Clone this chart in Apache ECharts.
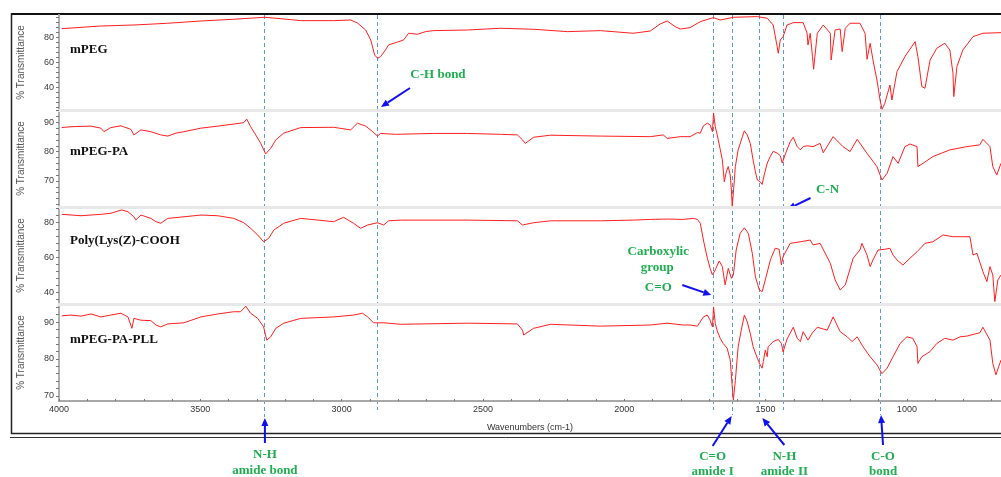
<!DOCTYPE html>
<html>
<head>
<meta charset="utf-8">
<script src="https://cdn.jsdelivr.net/npm/echarts@6/dist/echarts.min.js"></script>
<style>
  html, body { margin: 0; padding: 0; background: #ffffff; }
  #chart { width: 1001px; height: 477px; }
</style>
</head>
<body>
<div id="chart"></div>
<script>
// FTIR spectra: [wavenumber (cm-1), % transmittance]
const sampleNames = ['mPEG', 'mPEG-PA', 'Poly(Lys(Z)-COOH', 'mPEG-PA-PLL'];

const mPEG = [
  [3990,86.9],[3852,89.0],[3735,89.8],[3615,91.2],[3498,93.0],[3382,94.4],[3272,96.0],[3180,94.1],
  [3145,93.3],[3028,93.3],[2968,93.8],[2944,91.4],[2915,85.8],[2897,77.8],[2883,65.8],[2873,63.2],
  [2862,64.5],[2845,69.8],[2834,73.8],[2809,75.7],[2781,77.8],[2763,83.2],[2732,82.4],[2703,84.5],
  [2675,85.3],[2555,85.8],[2438,87.2],[2321,86.4],[2201,84.5],[2084,85.3],[1968,83.2],[1908,85.0],
  [1873,90.6],[1848,93.0],[1820,88.5],[1802,86.6],[1767,87.7],[1731,92.5],[1685,95.7],[1660,93.8],
  [1614,96.0],[1529,96.5],[1494,95.2],[1473,89.8],[1459,72.5],[1455,67.2],[1448,77.8],[1438,80.5],
  [1424,89.8],[1402,91.7],[1367,91.7],[1353,83.2],[1350,73.8],[1342,83.2],[1334,64.5],[1330,54.4],
  [1317,83.2],[1296,89.8],[1271,83.2],[1268,61.8],[1254,85.8],[1236,86.6],[1229,68.5],[1218,87.2],
  [1201,91.2],[1166,91.2],[1148,83.2],[1141,62.4],[1130,75.2],[1120,61.8],[1106,45.8],[1095,29.8],
  [1088,22.4],[1078,27.2],[1060,41.8],[1053,29.8],[1035,52.5],[1007,64.5],[971,76.5],[961,64.5],
  [947,40.5],[936,39.2],[918,61.8],[894,71.2],[866,75.2],[848,69.8],[837,51.2],[834,32.5],
  [823,56.5],[802,69.8],[766,80.5],[731,83.2],[667,83.7]
];

const mPEGPA = [
  [3990,88.2],[3958,88.5],[3887,88.7],[3852,88.0],[3841,86.8],[3817,88.2],[3781,88.8],[3746,87.6],
  [3735,85.7],[3710,87.4],[3675,86.8],[3640,85.7],[3615,85.3],[3586,86.3],[3558,86.8],[3498,88.0],
  [3438,88.7],[3382,89.4],[3346,89.9],[3336,91.1],[3322,88.5],[3304,85.7],[3286,82.8],[3269,79.2],
  [3251,81.1],[3233,84.0],[3205,86.3],[3145,88.2],[3028,88.3],[2968,87.4],[2944,89.7],[2915,88.7],
  [2890,86.8],[2873,85.3],[2862,86.2],[2809,85.9],[2675,86.2],[2555,86.2],[2438,85.9],[2378,85.7],
  [2360,84.0],[2350,82.8],[2321,84.9],[2261,85.6],[2084,85.3],[1908,85.1],[1862,85.7],[1848,84.5],
  [1802,85.1],[1791,85.1],[1767,85.1],[1741,86.5],[1731,86.3],[1720,88.8],[1706,89.7],[1696,89.1],
  [1688,86.8],[1684,93.2],[1678,88.5],[1671,85.7],[1660,80.6],[1653,77.2],[1646,69.7],[1639,73.1],
  [1632,74.9],[1625,72.0],[1621,66.9],[1618,61.4],[1614,65.8],[1607,74.9],[1597,80.6],[1582,85.1],
  [1575,87.1],[1565,85.7],[1554,82.8],[1544,77.1],[1536,73.1],[1529,70.3],[1519,69.7],[1512,68.8],
  [1505,72.0],[1494,76.1],[1483,78.4],[1473,80.1],[1459,79.5],[1448,78.6],[1441,76.1],[1431,78.9],
  [1413,83.4],[1402,84.9],[1388,81.7],[1377,80.6],[1367,81.7],[1353,82.0],[1332,81.7],[1307,82.8],
  [1296,79.6],[1261,85.1],[1226,81.7],[1201,80.0],[1176,84.2],[1141,79.4],[1106,74.9],[1088,70.3],
  [1070,72.6],[1049,78.3],[1031,76.0],[1007,81.7],[989,82.6],[964,81.7],[961,74.9],[943,76.0],
  [908,78.3],[848,80.6],[788,81.7],[742,82.3],[731,84.2],[706,81.7],[696,74.9],[682,72.0],[667,76.0]
];

const polyLysZ = [
  [3990,84.8],[3922,84.0],[3852,84.8],[3817,85.4],[3778,87.3],[3756,86.3],[3735,83.4],[3728,81.6],
  [3710,84.4],[3675,82.5],[3657,80.6],[3640,79.7],[3615,82.5],[3558,83.4],[3498,84.4],[3438,84.0],
  [3382,82.5],[3346,80.0],[3322,76.8],[3297,73.0],[3276,69.1],[3269,68.6],[3258,71.1],[3240,75.8],
  [3205,79.7],[3145,82.5],[3028,80.6],[2993,83.1],[2958,79.7],[2933,76.8],[2908,78.7],[2873,80.0],
  [2851,78.7],[2834,81.1],[2791,81.5],[2555,81.5],[2378,81.1],[2360,78.7],[2321,80.0],[2261,81.1],
  [2084,81.1],[1968,81.5],[1908,81.9],[1848,82.1],[1791,81.9],[1756,82.5],[1741,81.9],[1731,79.7],
  [1720,70.1],[1706,59.7],[1696,53.9],[1688,50.1],[1678,53.0],[1664,58.1],[1653,54.9],[1643,44.4],
  [1632,53.9],[1625,53.0],[1621,48.2],[1614,50.1],[1604,64.4],[1590,73.9],[1575,77.1],[1561,73.9],
  [1547,62.5],[1536,49.1],[1522,41.5],[1512,40.6],[1501,47.3],[1483,58.7],[1466,65.4],[1452,64.8],
  [1444,55.8],[1438,60.6],[1413,68.2],[1377,69.1],[1342,70.1],[1332,67.3],[1307,68.2],[1271,56.8],
  [1254,47.3],[1236,41.5],[1218,44.4],[1190,59.7],[1166,64.4],[1159,68.2],[1141,61.5],[1130,54.9],
  [1120,58.7],[1102,64.4],[1078,64.8],[1060,65.4],[1049,61.5],[1035,58.7],[1014,55.8],[989,59.7],
  [964,63.4],[936,68.2],[908,69.1],[872,73.0],[837,72.0],[802,72.0],[777,72.0],[766,61.5],
  [752,62.5],[731,52.0],[717,46.3],[706,54.9],[696,50.1],[689,34.9],[678,47.3],[667,50.1]
];

const mPEGPAPLL = [
  [3990,91.7],[3958,91.9],[3922,91.6],[3887,92.2],[3852,91.4],[3817,91.9],[3781,92.4],[3756,91.4],
  [3742,88.3],[3735,91.0],[3710,90.5],[3675,90.4],[3657,89.2],[3640,88.7],[3615,89.5],[3558,89.8],
  [3498,91.4],[3438,92.2],[3382,92.8],[3358,92.8],[3339,94.3],[3322,92.4],[3297,91.0],[3276,88.7],
  [3265,85.1],[3251,86.0],[3233,88.3],[3205,89.7],[3145,91.0],[3028,91.4],[2958,91.9],[2926,92.4],
  [2908,91.4],[2887,89.8],[2851,89.8],[2791,89.4],[2555,89.7],[2378,89.5],[2360,87.8],[2356,86.5],
  [2321,88.3],[2261,89.4],[2084,88.9],[1908,89.2],[1848,89.7],[1791,89.2],[1767,89.2],[1741,88.9],
  [1720,91.4],[1706,91.9],[1696,90.5],[1688,88.7],[1684,94.1],[1678,89.6],[1671,87.6],[1660,85.5],
  [1650,84.2],[1636,82.9],[1625,79.7],[1618,72.5],[1614,68.9],[1607,74.1],[1597,83.3],[1586,87.8],
  [1575,91.9],[1565,90.1],[1554,86.9],[1544,83.3],[1529,80.2],[1519,78.4],[1512,77.5],[1508,79.3],
  [1501,82.4],[1494,80.6],[1491,83.3],[1473,84.7],[1455,85.3],[1444,84.2],[1438,81.9],[1424,85.4],
  [1402,88.6],[1388,85.6],[1377,84.7],[1367,87.4],[1350,85.1],[1335,87.0],[1317,88.6],[1282,87.8],
  [1261,91.4],[1236,87.4],[1211,86.0],[1194,84.7],[1176,86.0],[1155,83.3],[1130,80.6],[1106,78.4],
  [1088,76.0],[1070,77.5],[1049,80.6],[1024,84.2],[1000,86.0],[979,85.6],[964,83.3],[961,78.8],
  [947,80.6],[918,82.0],[894,84.2],[866,85.6],[837,85.1],[812,86.0],[788,86.2],[742,87.1],
  [731,88.6],[706,85.1],[696,78.8],[685,75.7],[667,79.7]
];

const spectra = [mPEG, mPEGPA, polyLysZ, mPEGPAPLL];

// axis ranges and tick labels
const wavenumberRange = [667, 4000];
const xTickLabels = [4000, 3500, 3000, 2500, 2000, 1500, 1000];
const yRanges = [[21.8, 97.8], [61.1, 94.2], [33.5, 89.0], [68.6, 94.9]];
const yTickLabels = [[40, 60, 80], [70, 80, 90], [40, 60, 80], [70, 80, 90]];
const yMinorStep = [4, 2, 4, 2];

// assigned absorption bands (cm-1)
const bandLines = [3275, 2875, 1685, 1620, 1522, 1440, 1095];

// layout
const panelTop = [15, 110, 207, 304];
const panelHeight = [95, 97, 97, 97];
const GREEN = '#1fae4f';
const ARROW = '#1010f0';
const SERIF = '"Liberation Serif", "Times New Roman", serif';
const SANS = '"Liberation Sans", Arial, sans-serif';

function stepValues(min, max, step) {
  const out = [];
  for (let v = Math.ceil(min / step) * step; v <= max + 1e-9; v += step) out.push(+v.toFixed(4));
  return out;
}

const xMinorTicks = stepValues(700, 4000, 100);

const chart = echarts.init(document.getElementById('chart'), null, { renderer: 'canvas' });

const grids = panelTop.map((t, i) => ({ left: 59, right: 0, top: t, height: panelHeight[i] }));

const xAxes = spectra.map((_, i) => {
  const last = i === 3;
  return {
    gridIndex: i, type: 'value', inverse: true,
    min: wavenumberRange[0], max: wavenumberRange[1],
    name: last ? 'Wavenumbers (cm-1)' : '',
    nameLocation: 'middle', nameGap: 22,
    nameTextStyle: { fontFamily: SANS, fontSize: 9, color: '#333' },
    axisLine: { show: true, onZero: false,
      lineStyle: last ? { color: '#a8a8a8', width: 2 } : { color: '#e8e8e8', width: 3 } },
    axisTick: { show: last, inside: true, length: 2, customValues: xMinorTicks,
      lineStyle: { color: '#777' } },
    axisLabel: { show: last, customValues: xTickLabels, fontFamily: SANS, fontSize: 9,
      color: '#333', margin: 4, formatter: v => String(v) },
    splitLine: { show: false }
  };
});

const yAxes = spectra.map((_, i) => ({
  gridIndex: i, type: 'value', min: yRanges[i][0], max: yRanges[i][1],
  name: '% Transmittance', nameLocation: 'middle', nameGap: 33,
  nameTextStyle: { fontFamily: SANS, fontSize: 10, color: '#555' },
  axisLine: { show: true, lineStyle: { color: '#b0b0b0', width: 2 } },
  axisTick: { show: true, length: 3, customValues: stepValues(yRanges[i][0], yRanges[i][1], yMinorStep[i]),
    lineStyle: { color: '#777' } },
  axisLabel: { customValues: yTickLabels[i], fontFamily: SANS, fontSize: 9, color: '#3a3a3a', margin: 5,
    formatter: v => String(v) },
  splitLine: { show: false }
}));

const series = spectra.map((data, i) => ({
  type: 'line', name: sampleNames[i], xAxisIndex: i, yAxisIndex: i, data,
  showSymbol: false, symbol: 'none', silent: true, clip: true,
  lineStyle: { color: '#ff1f1f', width: 1 }
}));

chart.setOption({
  animation: false,
  backgroundColor: '#ffffff',
  grid: grids, xAxis: xAxes, yAxis: yAxes, series
});

// decorations and annotations positioned through the wavenumber scale
const px = w => chart.convertToPixel({ xAxisIndex: 3 }, w);

function arrow(x1, y1, x2, y2) {
  const ang = Math.atan2(y2 - y1, x2 - x1);
  const hl = 8, hw = 3.5;
  const bx = x2 - hl * Math.cos(ang), by = y2 - hl * Math.sin(ang);
  const nx = -Math.sin(ang) * hw, ny = Math.cos(ang) * hw;
  return [
    { type: 'line', silent: true, shape: { x1, y1, x2: bx, y2: by },
      style: { stroke: ARROW, lineWidth: 2 } },
    { type: 'polygon', silent: true,
      shape: { points: [[x2, y2], [bx + nx, by + ny], [bx - nx, by - ny]] },
      style: { fill: ARROW } }
  ];
}

function label(text, x, y, color, size) {
  return { type: 'text', silent: true, x, y,
    style: { text, fill: color, font: 'bold ' + size + 'px ' + SERIF,
      align: 'center', verticalAlign: 'middle' } };
}

const g = [];

// outer frame
g.push({ type: 'rect', silent: true, shape: { x: 11, y: 13, width: 990, height: 2 }, style: { fill: '#111' } });
g.push({ type: 'line', silent: true, shape: { x1: 11.5, y1: 13, x2: 11.5, y2: 434 }, style: { stroke: '#222', lineWidth: 1.5 } });
g.push({ type: 'line', silent: true, shape: { x1: 11, y1: 433.5, x2: 1001, y2: 433.5 }, style: { stroke: '#222', lineWidth: 1.5 } });
g.push({ type: 'line', silent: true, shape: { x1: 10, y1: 437.5, x2: 1001, y2: 437.5 }, style: { stroke: '#333', lineWidth: 1 } });

// band markers
const bandEnd = [417, 410, 410, 415, 407, 410, 415];
bandLines.forEach((w, i) => {
  const x = Math.round(px(w)) + 0.5;
  g.push({ type: 'line', silent: true, shape: { x1: x, y1: 15, x2: x, y2: bandEnd[i] },
    style: { stroke: '#5b9bd5', lineWidth: 1, lineDash: [4, 3] } });
});

// sample names
const nameOffset = [35, 42, 34, 36];
sampleNames.forEach((n, i) => {
  g.push({ type: 'text', silent: true, x: 70, y: panelTop[i] + nameOffset[i],
    style: { text: n, fill: '#111', font: 'bold 13px ' + SERIF, align: 'left', verticalAlign: 'middle' } });
});

// band assignments
const xNH = px(3275), xCH = px(2875), xCOOH = px(1685), xAmI = px(1620),
      xAmII = px(1522), xCN = px(1440), xCO = px(1095);

g.push(label('C-H bond', xCH + 61, 75, GREEN, 13));
g.push(...arrow(xCH + 33, 88, xCH + 4, 107));

g.push(label('C-N', xCN + 45, 190, GREEN, 13));
g.push(...arrow(xCN + 28, 198, xCN + 5, 209));

g.push(label('Carboxylic', xCOOH - 55, 252, GREEN, 13));
g.push(label('group', xCOOH - 56, 268, GREEN, 13));
g.push(label('C=O', xCOOH - 55, 288, GREEN, 13));
g.push(...arrow(xCOOH - 31, 285, xCOOH - 2, 295));

g.push(label('N-H', xNH + 1, 455, GREEN, 13));
g.push(label('amide bond', xNH + 1, 471, GREEN, 13));
g.push(...arrow(xNH + 1, 443, xNH + 1, 418));

g.push(label('C=O', xAmI - 19, 457, GREEN, 13));
g.push(label('amide I', xAmI - 19, 472, GREEN, 13));
g.push(...arrow(xAmI - 19, 446, xAmI + 0, 416));

g.push(label('N-H', xAmII + 25, 457, GREEN, 13));
g.push(label('amide II', xAmII + 25, 472, GREEN, 13));
g.push(...arrow(xAmII + 25, 445, xAmII + 3, 418));

g.push(label('C-O', xCO + 3, 457, GREEN, 13));
g.push(label('bond', xCO + 3, 472, GREEN, 13));
g.push(...arrow(xCO + 3, 445, xCO + 1, 415));

chart.setOption({ graphic: g });
</script>
</body>
</html>
